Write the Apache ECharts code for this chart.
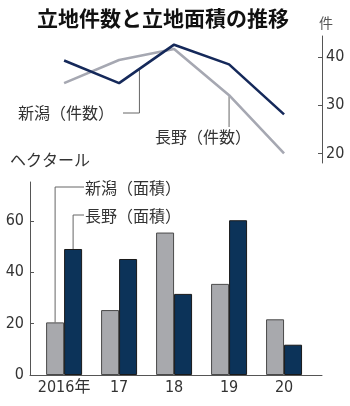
<!DOCTYPE html>
<html><head><meta charset="utf-8">
<script src="https://cdn.jsdelivr.net/npm/echarts@6/dist/echarts.min.js"></script>
<style>html,body{margin:0;padding:0;background:#fff}#c{width:350px;height:406px}</style>
</head><body><div id="c"></div>
<script>
// Years on the shared horizontal axis
const years = ['2016年', '17', '18', '19', '20'];
// Number of sites (件)
const niigataCount = [39.3, 34.6, 42.6, 38.5, 28.1];
const naganoCount = [34.6, 39.4, 41.7, 32.1, 20.0];
// Site area (ヘクタール)
const niigataArea = [20.5, 25.3, 55.5, 35.5, 21.7];
const naganoArea = [49.1, 45.2, 31.6, 60.3, 11.8];
// Tick labels
const countTicks = [20, 30, 40];
const areaTicks = [0, 20, 40, 60];
const yearIdx = years.map((_, i) => i);

const NAVY_LINE = '#15295a';
const GRAY_LINE = '#a6a8b2';
const NAVY_BAR = '#0c3359';
const GRAY_BAR = '#a8a9ad';
const AXIS = '#555';
const NUM_FONT = "'DejaVu Sans Condensed', 'Noto Sans CJK JP', sans-serif";
const JP_FONT = "'Noto Sans CJK JP', sans-serif";

const pairs = arr => arr.map((v, i) => [i, v]);

const chart = echarts.init(document.getElementById('c'), null, { renderer: 'canvas' });

const xCommon = { type: 'value', min: -0.62, max: 4.69, splitLine: { show: false } };

chart.setOption({
  animation: false,
  grid: [
    { left: 30, right: 28, top: 36, height: 127 },
    { left: 30, right: 28, top: 182, bottom: 31 }
  ],
  xAxis: [
    Object.assign({ gridIndex: 0, show: false }, xCommon),
    Object.assign({
      gridIndex: 1,
      axisLine: { onZero: false, lineStyle: { color: AXIS, width: 1 } },
      axisTick: { show: false },
      axisLabel: {
        customValues: yearIdx, margin: 5,
        formatter: v => years[Math.round(v)],
        fontFamily: NUM_FONT, fontSize: 16, color: '#333'
      }
    }, xCommon)
  ],
  yAxis: [
    {
      gridIndex: 0, type: 'value', position: 'right', min: 18, max: 44.4,
      splitLine: { show: false },
      axisLine: { show: true, onZero: false, lineStyle: { color: AXIS } },
      axisTick: { show: true, inside: true, length: 4, customValues: countTicks, lineStyle: { color: AXIS } },
      axisLabel: { customValues: countTicks, margin: 4, fontFamily: NUM_FONT, fontSize: 16, color: '#333' }
    },
    {
      gridIndex: 1, type: 'value', min: 0, max: 75.2,
      splitLine: { show: false },
      axisLine: { show: true, onZero: false, lineStyle: { color: AXIS } },
      axisTick: { show: true, inside: true, length: 4, customValues: areaTicks, lineStyle: { color: AXIS } },
      axisLabel: { customValues: areaTicks, margin: 6, fontFamily: NUM_FONT, fontSize: 16, color: '#333' }
    }
  ],
  series: [
    {
      name: '長野（件数）', type: 'line', xAxisIndex: 0, yAxisIndex: 0,
      data: pairs(naganoCount), symbol: 'none',
      lineStyle: { color: GRAY_LINE, width: 2.6 }
    },
    {
      name: '新潟（件数）', type: 'line', xAxisIndex: 0, yAxisIndex: 0,
      data: pairs(niigataCount), symbol: 'none',
      lineStyle: { color: NAVY_LINE, width: 2.6 }
    },
    {
      name: '新潟（面積）', type: 'bar', xAxisIndex: 1, yAxisIndex: 1,
      data: pairs(niigataArea), barWidth: 18, barGap: '0%',
      itemStyle: { color: GRAY_BAR, borderColor: '#4a4a4a', borderWidth: 1 }
    },
    {
      name: '長野（面積）', type: 'bar', xAxisIndex: 1, yAxisIndex: 1,
      data: pairs(naganoArea), barWidth: 18, barGap: '0%',
      itemStyle: { color: NAVY_BAR, borderColor: '#1a1a1a', borderWidth: 1 }
    }
  ]
});

// Leader lines are anchored on the data through the chart's own scales
const px = (g, x, y) => chart.convertToPixel({ gridIndex: g }, [x, y]);
const leader = pts => ({
  type: 'polyline', silent: true,
  shape: { points: pts },
  style: { stroke: '#666', lineWidth: 1, fill: null }
});
const text = (x, y, s, size, opts) => ({
  type: 'text', x, y, silent: true,
  style: Object.assign({
    text: s, fontFamily: JP_FONT, fontSize: size, fill: '#333',
    textVerticalAlign: 'middle'
  }, opts || {})
});

const t = 0.37;
const nA = px(0, 1 + t, niigataCount[1] + (niigataCount[2] - niigataCount[1]) * t);
const gB = px(0, 3, naganoCount[3]);
const barN = px(1, 0, niigataArea[0]);
const barG = px(1, 0, naganoArea[0]);

chart.setOption({
  graphic: [
    text(163, 18, '立地件数と立地面積の推移', 21, { fontWeight: 'bold', fill: '#111', textAlign: 'center' }),
    text(326, 23, '件', 14, { fill: '#555', textAlign: 'center' }),
    text(10, 160, 'ヘクタール', 16),
    text(18, 113, '新潟（件数）', 16),
    leader([[123, 113], [nA[0], 113], [nA[0], nA[1] + 1]]),
    text(155, 137, '長野（件数）', 16),
    leader([[gB[0], gB[1] + 1], [gB[0], 127]]),
    text(85, 188, '新潟（面積）', 16),
    leader([[barN[0] - 9, barN[1]], [barN[0] - 9, 187], [84, 187]]),
    text(85, 216, '長野（面積）', 16),
    leader([[barG[0] + 9, barG[1]], [barG[0] + 9, 215], [84, 215]])
  ]
});
</script>
</body></html>
